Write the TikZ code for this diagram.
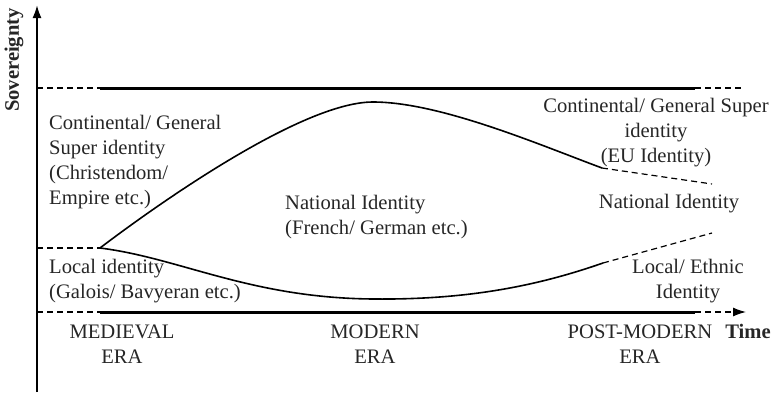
\documentclass[tikz,border=0pt]{standalone}
\usepackage{fontspec}
\setmainfont{Liberation Serif}
\usetikzlibrary{arrows.meta,positioning,calc}

\begin{document}
\begin{tikzpicture}[x=1pt,y=-1pt,>={Latex[length=13pt,width=9pt]},
    txt/.style={font=\fontsize{20.6}{25}\selectfont,inner sep=0pt,text=black!85},
    dsh/.style={dash pattern=on 6pt off 4pt,line width=1.2pt},
    curve/.style={line width=1.6pt}]
    \useasboundingbox (0,0) rectangle (772,394);
    \coordinate (o) at (37,392);
    \coordinate (ytop) at (37,5);
    \coordinate (tl) at (37,88);
    \coordinate (ts) at (100,88);
    \coordinate (te) at (695,88);
    \coordinate (tr) at (742,88);
    \coordinate (bl) at (37,312);
    \coordinate (bs) at (100,312);
    \coordinate (be) at (695,312);
    \coordinate (br) at (746,312);
    \coordinate (ml) at (37,248);
    \coordinate (split) at (100,248);
    \coordinate (peak) at (373,102);
    \coordinate (eu) at (602,168);
    \coordinate (euend) at (712,184);
    \coordinate (trough) at (373,299);
    \coordinate (loc) at (603,263);
    \coordinate (locend) at (712,233);

    \draw [->,line width=2pt] (o) -- (ytop);
    \node [txt,rotate=90,font=\fontsize{20.6}{25}\selectfont\bfseries] (sov) at (14,60) {Sovereignty};

    \draw [dsh] (tl) -- (ts);
    \draw [line width=3pt] (ts) -- (te);
    \draw [dsh] (te) -- (tr);
    \draw [dsh] (bl) -- (bs);
    \draw [line width=3pt] (bs) -- (be);
    \draw [dsh,->] (be) -- (br);
    \draw [dsh] (ml) -- (split);

    \draw [curve] (split) .. controls (150,210) and (300,102) .. (peak)
        .. controls (440,102) and (540,145) .. (eu);
    \draw [dsh] (eu) -- (euend);
    \draw [curve] (split) .. controls (180,258) and (250,298) .. (trough)
        .. controls (470,300) and (540,285) .. (loc);
    \draw [dsh] (loc) -- (locend);

    \node [txt,align=left,anchor=west] (cont) at (49,162) {Continental/ General\\Super identity\\(Christendom/\\Empire etc.)};
    \node [txt,align=left,anchor=west] (local) at (49,281) {Local identity\\(Galois/ Bavyeran etc.)};
    \node [txt,align=left,anchor=west] (nat) at (285,217) {National Identity\\(French/ German etc.)};
    \node [txt,align=center] (contpm) at (656,133) {Continental/ General Super\\identity\\(EU Identity)};
    \node [txt] (natpm) at (669,204) {National Identity};
    \node [txt,align=center] (ethnic) at (688,281) {Local/ Ethnic\\Identity};
    \node [txt,align=center] (med) at (122,344) {MEDIEVAL\\ERA};
    \node [txt,align=center] (mod) at (375,344) {MODERN\\ERA};
    \node [txt,align=center] (pm) at (640,344) {POST-MODERN\\ERA};
    \node [txt,font=\fontsize{20.6}{25}\selectfont\bfseries] (time) at (748,331) {Time};
\end{tikzpicture}
\end{document}
